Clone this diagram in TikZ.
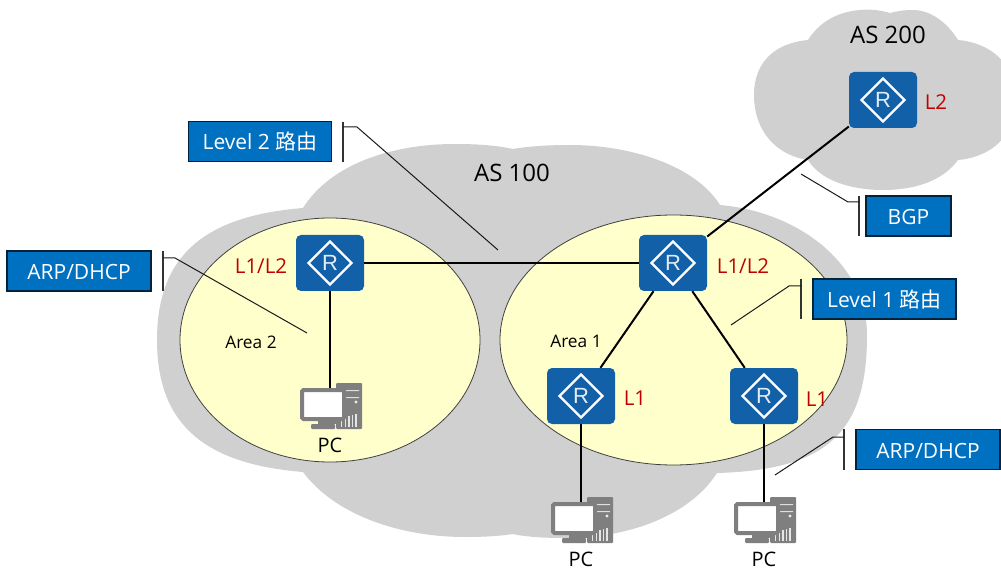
\documentclass[tikz,border=0pt]{standalone}
\usepackage{fontspec}
\setmainfont{Open Sans}
\newfontfamily\cjk{Noto Sans CJK SC}
\newfontfamily\rfont{Liberation Sans}
\definecolor{cloudgray}{HTML}{D0D0D0}
\definecolor{areafill}{HTML}{FFFFCC}
\definecolor{routerblue}{HTML}{1160A8}
\definecolor{boxblue}{HTML}{0070C0}
\definecolor{pcgray}{HTML}{7F7F7F}
\definecolor{lvlred}{HTML}{C00000}
\tikzset{
  x=1pt,y=-1pt,
  cloudshape/.style={fill=cloudgray,draw=none},
  areashape/.style={fill=areafill,draw=black!75,line width=0.8pt},
  router/.style={fill=routerblue,draw=none,rounded corners=5pt,minimum width=68pt,minimum height=56pt,inner sep=0pt,
    text=white!88!routerblue,font=\rfont\fontsize{22}{22}\selectfont},
  diamondmark/.style={draw=white,line width=2.2pt},
  link/.style={draw=black,line width=2pt},
  callout/.style={fill=boxblue,draw=black!70!boxblue,line width=1.2pt,text=white,inner sep=0pt,minimum height=40pt,text height=20pt,text depth=3pt,font=\fontsize{21}{24}\selectfont},
  bar/.style={draw=black!80,line width=1.2pt},
  leader/.style={draw=black!90,line width=1pt},
  lvl/.style={text=lvlred,inner sep=0pt,font=\fontsize{20.5}{23}\selectfont},
  areatext/.style={text=black,inner sep=0pt,font=\fontsize{17.3}{20}\selectfont},
  astext/.style={text=black,inner sep=0pt,font=\fontsize{24}{27}\selectfont},
  pclabel/.style={text=black,inner sep=0pt,font=\fontsize{20}{23}\selectfont},
  monitor/.style={fill=white,draw=pcgray,line width=4pt,rounded corners=1.5pt,minimum width=42pt,minimum height=29pt,inner sep=0pt},
  pcbody/.pic={
    \fill[pcgray,rounded corners=1pt] (6,-23) rectangle (32,23);
    \fill[pcgray] (-12,15) rectangle (8,18);
    \fill[pcgray,rounded corners=1pt] (-19,18) rectangle (5,23);
    \fill[white!75!pcgray] (11,-16) rectangle (29,-15) (11,-9) rectangle (29,-8);
    \fill[white!85!pcgray] (26,-4) circle (1.6);
    \foreach \i in {0,1,2,3,4}{\fill[white!80!pcgray] (11+\i*3.6,12-\i) rectangle (12.4+\i*3.6,21);}
  }
}
\newcommand{\routermark}[3]{%
  \node[router] (#1) at (#2,#3) {};
  \draw[diamondmark] (#2-21.5,#3) -- (#2,#3-21.5) -- (#2+21.5,#3) -- (#2,#3+21.5) -- cycle;
  \node[router,fill=none,minimum width=0pt,minimum height=0pt] (#1R) at (#2,#3) {R};
}
\newcommand{\pcmark}[4]{%
  \pic at (#2,#3) {pcbody};
  \node[monitor] (#1) at (#2-7,#3-1.5) {};
  \node[pclabel] (#1L) at (#2,#4) {PC};
}
\begin{document}
\begin{tikzpicture}
\useasboundingbox (0,0) rectangle (1001,569);
\begin{scope}
\clip (0,0) rectangle (1001,569);
% clouds
\path[cloudshape] (303,208) .. controls (205,216) and (157,255) .. (157,340)
  .. controls (157,425) and (205,464) .. (303,472)
  .. controls (335,515) and (400,537) .. (465,537)
  .. controls (485,537) and (500,536) .. (513,534)
  .. controls (526,537) and (545,538) .. (565,538)
  .. controls (630,538) and (690,515) .. (717,473)
  .. controls (830,470) and (867,430) .. (867,335)
  .. controls (867,265) and (800,212) .. (720,205)
  .. controls (695,165) and (630,145) .. (570,145)
  .. controls (550,145) and (530,146) .. (513,149)
  .. controls (495,145) and (475,144) .. (455,144)
  .. controls (390,144) and (330,165) .. (303,208) -- cycle;
\path[cloudshape] (808,40) .. controls (775,43) and (754,62) .. (754,95)
  .. controls (754,130) and (775,155) .. (808,160)
  .. controls (820,180) and (850,190) .. (883,190)
  .. controls (920,190) and (945,178) .. (958,160)
  .. controls (992,157) and (1016,135) .. (1016,100)
  .. controls (1016,65) and (992,43) .. (958,40)
  .. controls (947,22) and (930,10) .. (913,10)
  .. controls (905,10) and (897,11) .. (890,13)
  .. controls (880,10) and (870,9) .. (860,10)
  .. controls (835,12) and (818,24) .. (808,40) -- cycle;
\end{scope}
% areas
\path[areashape] (330,340) ellipse [x radius=150,y radius=122];
\path[areashape] (673.5,340) ellipse [x radius=173.5,y radius=125];
% routers
\routermark{rA}{330}{263}
\routermark{rB}{673}{263}
\routermark{rC}{581}{396}
\routermark{rD}{764}{396}
\routermark{rE}{883}{100}
% PCs
\pcmark{pcA}{330}{406}{445}
\pcmark{pcB}{581}{520}{559}
\pcmark{pcC}{764}{520}{559}
% links
\draw[link] (rA) -- (rB);
\draw[link] (rB) -- (rE);
\draw[link] (rB) -- (rC);
\draw[link] (rB) -- (rD);
\draw[link] (rA.south) -- (rA.south |- pcA.north);
\draw[link] (rC.south) -- (rC.south |- pcB.north);
\draw[link] (rD.south) -- (rD.south |- pcC.north);
% texts
\node[astext] (as100) at (512,172.5) {AS 100};
\node[astext] (as200) at (888,34.5) {AS 200};
\node[areatext] (a2) at (251,342.5) {Area 2};
\node[areatext] (a1) at (576,341.5) {Area 1};
\node[lvl] (lA) at (261,266) {L1/L2};
\node[lvl] (lB) at (743,266) {L1/L2};
\node[lvl] (lC) at (635,398) {L1};
\node[lvl] (lD) at (817,399) {L1};
\node[lvl] (lE) at (936,102) {L2};
% callouts
\node[callout,minimum width=143pt] (cL2) at (260,141.5) {Level 2 {\cjk 路由}};
\node[callout,minimum width=144pt] (cArpA) at (79,271) {ARP/DHCP};
\node[callout,minimum width=85pt] (cBgp) at (908.5,216) {BGP};
\node[callout,minimum width=143pt] (cL1) at (884.5,299) {Level 1 {\cjk 路由}};
\node[callout,minimum width=144pt] (cArpB) at (928,449.5) {ARP/DHCP};
% brackets and leaders
\coordinate (bL2a) at (343,122); \coordinate (bL2b) at (343,162);
\coordinate (tL2) at (498,250);
\draw[bar] (bL2a) -- (bL2b);
\draw[leader] (343,127) -- (357,127) -- (tL2);
\coordinate (bAa) at (163,251); \coordinate (bAb) at (163,291);
\coordinate (tA) at (307,333);
\draw[bar] (bAa) -- (bAb);
\draw[leader] (163,258) -- (175,258) -- (tA);
\coordinate (bBa) at (859,196); \coordinate (bBb) at (859,236);
\coordinate (tB) at (801,174);
\draw[bar] (bBa) -- (bBb);
\draw[leader] (tB) -- (848,202) -- (859,202);
\coordinate (bCa) at (801,279); \coordinate (bCb) at (801,319);
\coordinate (tC) at (731,325);
\draw[bar] (bCa) -- (bCb);
\draw[leader] (tC) -- (789,286) -- (801,286);
\coordinate (bDa) at (844,429); \coordinate (bDb) at (844,470);
\coordinate (tD) at (775,475);
\draw[bar] (bDa) -- (bDb);
\draw[leader] (tD) -- (833,437) -- (844,437);
\end{tikzpicture}
\end{document}
